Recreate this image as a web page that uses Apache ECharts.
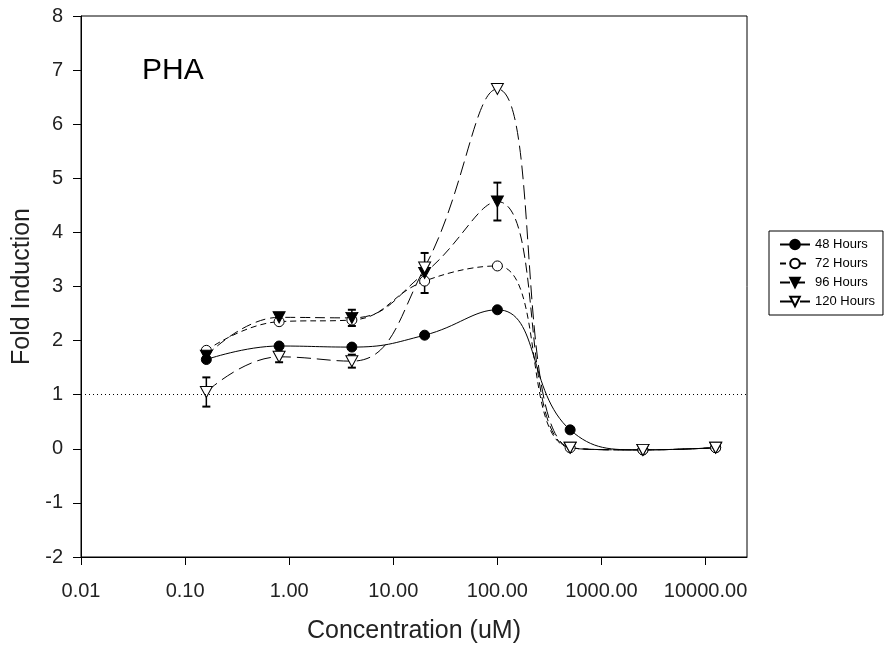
<!DOCTYPE html>
<html>
<head>
<meta charset="utf-8">
<script src="https://cdn.jsdelivr.net/npm/echarts@6/dist/echarts.min.js"></script>
<style>
  html, body { margin: 0; padding: 0; background: #fff; }
  #app { width: 887px; height: 645px; }
</style>
</head>
<body>
<div id="app"></div>
<script>
// concentrations (uM) the cells were treated with
const concentrations = [0.16, 0.8, 4, 20, 100, 500, 2500, 12500];

// fold induction per time point
const hours48 = [1.65, 1.9, 1.88, 2.1, 2.57, 0.35, -0.02, 0.02];
const hours72 = [1.82, 2.35, 2.38, 3.1, 3.38, 0.02, -0.02, 0.02];
const hours96 = [1.72, 2.43, 2.42, 3.25, 4.57, 0.02, -0.02, 0.02];
const hours120 = [1.05, 1.7, 1.62, 3.35, 6.65, 0.02, -0.02, 0.02];

// error bars (null = none drawn)
const err96 = [null, 0.08, 0.15, 0.37, 0.35, null, null, null];
const err120 = [0.27, 0.1, 0.12, null, null, null, null, null];

const xTicks = [0.01, 0.1, 1, 10, 100, 1000, 10000];
const seriesNames = ["48 Hours", "72 Hours", "96 Hours", "120 Hours"];

const FONT = "Liberation Sans";
const DOWN_TRIANGLE = "path://M0,0L10,0L5,9Z";

function pairs(values) {
  return concentrations.map((c, i) => [c, values[i]]);
}

function errorData(values, errs) {
  return concentrations
    .map((c, i) => [c, values[i], errs[i]])
    .filter(d => d[2] != null);
}

function renderErrorBar(params, api) {
  const x = api.value(0);
  const y = api.value(1);
  const e = api.value(2);
  const top = api.coord([x, y + e]);
  const bottom = api.coord([x, y - e]);
  const cap = 4;
  const capStyle = { stroke: "#000", lineWidth: 2 };
  return {
    type: "group",
    children: [
      { type: "line", shape: { x1: top[0], y1: top[1], x2: bottom[0], y2: bottom[1] }, style: { stroke: "#000", lineWidth: 1.5 } },
      { type: "line", shape: { x1: top[0] - cap, y1: top[1], x2: top[0] + cap, y2: top[1] }, style: capStyle },
      { type: "line", shape: { x1: bottom[0] - cap, y1: bottom[1], x2: bottom[0] + cap, y2: bottom[1] }, style: capStyle }
    ]
  };
}

function lineSeries(name, values, symbol, size, fill, dash) {
  return {
    name,
    type: "line",
    data: pairs(values),
    smooth: 0.45,
    symbol,
    symbolSize: size,
    lineStyle: { color: "#000", width: 1, type: dash },
    itemStyle: { color: fill, borderColor: "#000", borderWidth: 1 },
    z: 3
  };
}

function errorSeries(values, errs) {
  return {
    type: "custom",
    renderItem: renderErrorBar,
    data: errorData(values, errs),
    silent: true,
    z: 2
  };
}

const series48 = lineSeries(seriesNames[0], hours48, "circle", 10, "#000", "solid");
series48.markLine = {
  silent: true,
  symbol: "none",
  label: { show: false },
  lineStyle: { color: "#000", type: [1, 3], width: 1 },
  data: [{ yAxis: 1 }]
};

const option = {
  animation: false,
  backgroundColor: "#fff",
  title: {
    text: "PHA",
    left: 137,
    top: 51,
    textStyle: { fontFamily: FONT, fontSize: 30, fontWeight: "normal", color: "#000" }
  },
  legend: {
    data: seriesNames,
    orient: "vertical",
    left: 769,
    top: 231,
    padding: [7, 8, 7, 10],
    itemGap: 6,
    itemWidth: 30,
    itemHeight: 12,
    borderColor: "#000",
    borderWidth: 1,
    textStyle: { fontFamily: FONT, fontSize: 13, color: "#000" }
  },
  grid: {
    show: true,
    left: 81,
    top: 16,
    width: 666,
    height: 541,
    outerBoundsMode: "none",
    borderColor: "#000",
    borderWidth: 1,
    backgroundColor: "transparent"
  },
  xAxis: {
    type: "log",
    min: 0.01,
    max: 25000,
    name: "Concentration (uM)",
    nameLocation: "middle",
    nameGap: 62,
    nameTextStyle: { fontFamily: FONT, fontSize: 25, color: "#222" },
    axisLine: { onZero: false, lineStyle: { color: "#000", width: 1 } },
    axisTick: { customValues: xTicks, length: 8, lineStyle: { color: "#000" } },
    minorTick: { show: false },
    splitLine: { show: false },
    axisLabel: {
      customValues: xTicks,
      margin: 24,
      fontFamily: FONT,
      fontSize: 20,
      color: "#222",
      formatter: v => (Math.abs(v - 0.01) < 1e-6 ? "0.01" : Number(v).toFixed(2))
    }
  },
  yAxis: {
    type: "value",
    min: -2,
    max: 8,
    interval: 1,
    name: "Fold Induction",
    nameLocation: "middle",
    nameGap: 38,
    nameTextStyle: { fontFamily: FONT, fontSize: 25, color: "#222" },
    axisLine: { show: true, lineStyle: { color: "#000", width: 1 } },
    axisTick: { show: true, length: 8, lineStyle: { color: "#000" } },
    splitLine: { show: false },
    axisLabel: { margin: 18, fontFamily: FONT, fontSize: 20, color: "#222" }
  },
  series: [
    series48,
    lineSeries(seriesNames[1], hours72, "circle", 10, "#fff", [6, 4]),
    lineSeries(seriesNames[2], hours96, DOWN_TRIANGLE, [12, 11], "#000", [10, 5]),
    lineSeries(seriesNames[3], hours120, DOWN_TRIANGLE, [12, 11], "#fff", [14, 6]),
    errorSeries(hours96, err96),
    errorSeries(hours120, err120)
  ]
};

const chart = echarts.init(document.getElementById("app"));
chart.setOption(option);
</script>
</body>
</html>
